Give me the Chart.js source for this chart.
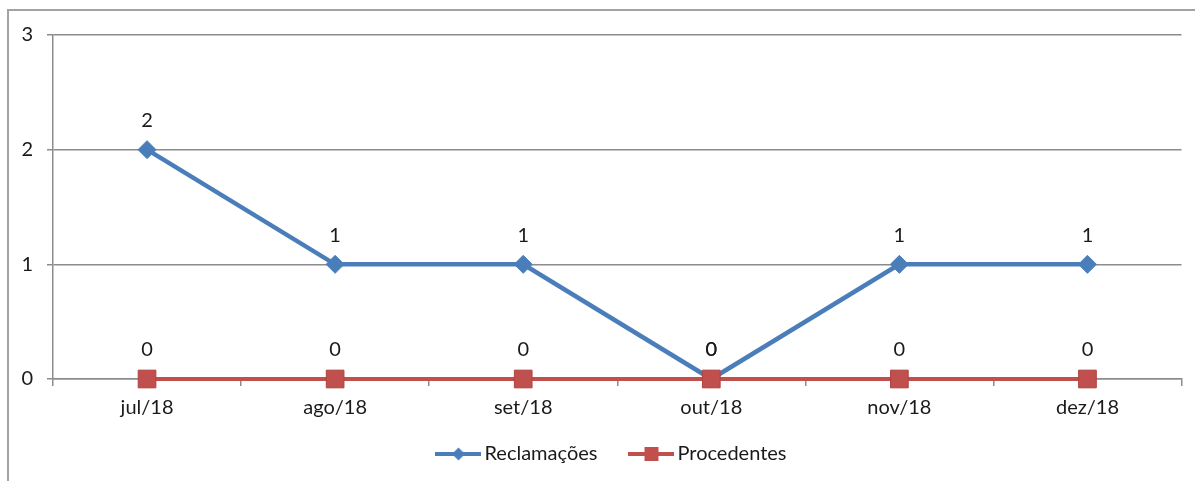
<!DOCTYPE html>
<html><head><meta charset="utf-8">
<script src="https://cdn.jsdelivr.net/npm/chart.js@4/dist/chart.umd.min.js"></script>
<style>
html,body{margin:0;padding:0;background:#fff;}
#wrap{position:relative;width:1195px;height:481px;overflow:hidden;}
#frame{position:absolute;left:7px;top:9px;width:1300px;height:600px;border-left:2px solid #a3a3a3;border-top:2px solid #a3a3a3;}
canvas{position:absolute;left:0;top:0;}
</style></head><body>
<div id="wrap"><div id="frame"></div><canvas id="c" width="1195" height="481"></canvas></div>
<script>
const categories = ['jul/18','ago/18','set/18','out/18','nov/18','dez/18'];
const reclamacoes = [2, 1, 1, 0, 1, 1];
const procedentes = [0, 0, 0, 0, 0, 0];
const seriesNames = ['Reclamações', 'Procedentes'];
const yTickValues = [0, 1, 2, 3];

const BLUE = '#4a7ebb';
const RED = '#c0504d';
const GRID = '#8c8c8c';
const TEXT = '#1a1a1a';
const FONT = {family: 'Lato, "Open Sans", sans-serif', size: 20};

function legendImg(color, style) {
  const c = document.createElement('canvas');
  c.width = 46; c.height = 16;
  const g = c.getContext('2d');
  g.strokeStyle = color; g.lineWidth = 4;
  g.beginPath(); g.moveTo(0, 8); g.lineTo(46, 8); g.stroke();
  g.fillStyle = color;
  g.beginPath();
  if (style === 'diamond') {
    g.moveTo(23, 1.5); g.lineTo(29.5, 8); g.lineTo(23, 14.5); g.lineTo(16.5, 8); g.closePath();
  } else {
    g.rect(16, 1, 14, 14);
  }
  g.fill();
  return c;
}
const legendImages = [legendImg(BLUE, 'diamond'), legendImg(RED, 'square')];

const valueLabels = {
  id: 'valueLabels',
  afterDatasetsDraw(chart) {
    const ctx = chart.ctx;
    ctx.save();
    ctx.font = FONT.size + 'px ' + FONT.family;
    ctx.fillStyle = TEXT;
    ctx.textAlign = 'center';
    ctx.textBaseline = 'middle';
    chart.data.datasets.forEach((ds, i) => {
      const meta = chart.getDatasetMeta(i);
      meta.data.forEach((pt, j) => {
        ctx.fillText(String(ds.data[j]), pt.x, pt.y - 29);
      });
    });
    ctx.restore();
  }
};

const legendShift = {
  id: 'legendShift',
  afterLayout(chart) {
    const l = chart.legend;
    if (l) { l.left += 22; l.right += 22; l.top -= 20; l.bottom -= 20; }
  }
};

new Chart(document.getElementById('c'), {
  type: 'line',
  data: {
    labels: categories,
    datasets: [
      {label: seriesNames[0], data: reclamacoes, borderColor: BLUE, backgroundColor: BLUE,
       borderWidth: 4.5, tension: 0, pointStyle: 'rectRot', pointRadius: 9, pointBorderWidth: 1,
       pointBorderColor: BLUE, pointBackgroundColor: BLUE, order: 1, clip: false},
      {label: seriesNames[1], data: procedentes, borderColor: RED, backgroundColor: RED,
       borderWidth: 4, tension: 0, pointStyle: 'rect', pointRadius: 12.5, pointBorderWidth: 1,
       pointBorderColor: '#b04440', pointBackgroundColor: RED, order: 0, clip: false}
    ]
  },
  options: {
    responsive: false,
    animation: false,
    layout: {padding: {top: 35, right: 10, bottom: -13, left: 0}},
    plugins: {
      tooltip: {enabled: false},
      legend: {
        position: 'bottom',
        labels: {
          usePointStyle: true,
          pointStyleWidth: 32,
          padding: 38,
          color: TEXT,
          font: FONT,
          sort: (a, b) => a.datasetIndex - b.datasetIndex,
          generateLabels(chart) {
            const items = Chart.defaults.plugins.legend.labels.generateLabels(chart);
            items.forEach(it => { it.pointStyle = legendImages[it.datasetIndex]; });
            return items;
          }
        }
      }
    },
    scales: {
      x: {
        offset: true,
        grid: {drawOnChartArea: false, drawTicks: true, tickLength: 7, color: GRID, lineWidth: 1.5, offset: true},
        border: {color: GRID, width: 1.5},
        ticks: {font: FONT, color: TEXT, padding: 10, maxRotation: 0},
        afterFit(s) { s.height = 47; }
      },
      y: {
        min: 0, max: 3,
        afterBuildTicks(s) { s.ticks = yTickValues.map(v => ({value: v})); },
        grid: {color: GRID, lineWidth: 1.5, tickLength: 6},
        border: {color: GRID, width: 1.5},
        ticks: {font: FONT, color: TEXT, padding: 14},
        afterFit(s) { s.width = 53; }
      }
    }
  },
  plugins: [valueLabels, legendShift]
});
</script>
</body></html>
